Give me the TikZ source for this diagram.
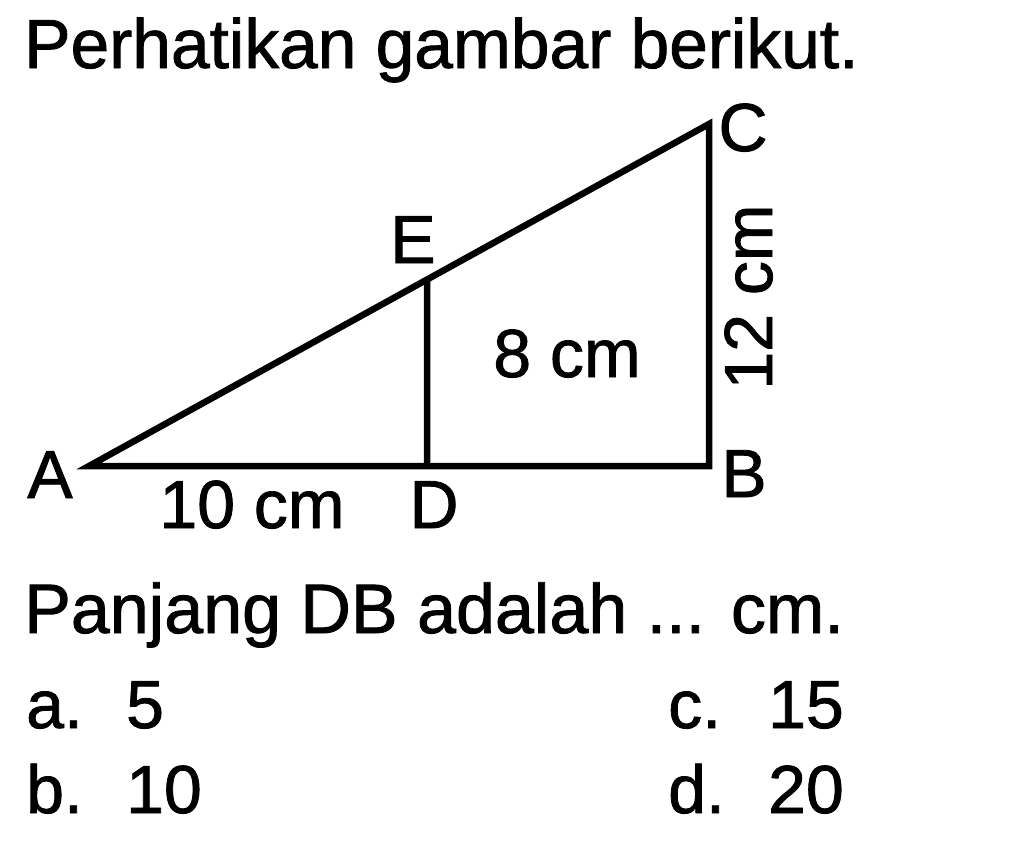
\documentclass[tikz,border=0pt]{standalone}
\usepackage{fontspec}
\setmainfont[FakeBold=1.2]{Liberation Sans}
\usetikzlibrary{calc}
\begin{document}
\begin{tikzpicture}[x=1pt,y=-1pt,
  txt/.style={inner sep=0pt, anchor=base, font=\fontsize{68}{80}\selectfont},
  edge/.style={line width=6.5pt, line join=miter, miter limit=10}]
\useasboundingbox (0,0) rectangle (1017,854);
% vertices
\coordinate (A) at (89,466);
\coordinate (B) at (709,466);
\coordinate (C) at (709,124);
\coordinate (D) at (427,466);
\coordinate (E) at ($(A)!0.5452!(C)$);
\draw[edge] (A) -- (B) -- (C) -- cycle;
\draw[edge] (D) -- (E);
% title and question
\node[txt, anchor=base west, font=\fontsize{69.5}{80}\selectfont] (title) at (24,68) {Perhatikan gambar berikut.};
\node[txt, anchor=base west, font=\fontsize{70}{80}\selectfont] (quest) at (24,633) {Panjang DB adalah ... cm.};
% vertex labels
\node[txt] (lA) at (50,498) {A};
\node[txt] (lB) at (744,497) {B};
\node[txt] (lC) at (743,151) {C};
\node[txt] (lD) at (434,528) {D};
\node[txt] (lE) at (413,263) {E};
% measures
\node[txt] (m10) at (252,528) {10 cm};
\node[txt] (m8) at (567,377) {8 cm};
\node[txt, rotate=90] (m12) at (772,297) {12 cm};
% options
\node[txt, anchor=base west] (oa) at (26,728) {\makebox[100pt][l]{a.}5};
\node[txt, anchor=base west] (ob) at (26,813) {\makebox[100pt][l]{b.}10};
\node[txt, anchor=base west] (oc) at (668,728) {\makebox[100pt][l]{c.}15};
\node[txt, anchor=base west] (od) at (668,813) {\makebox[100pt][l]{d.}20};
\end{tikzpicture}
\end{document}
